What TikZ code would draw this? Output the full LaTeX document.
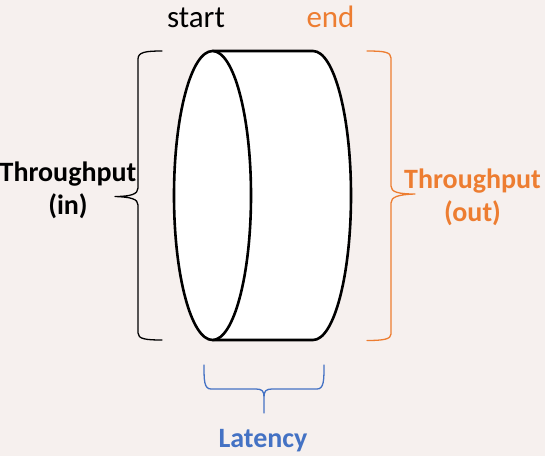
\documentclass[tikz,border=0pt]{standalone}
\usepackage{fontspec}
\setmainfont{Carlito}
\definecolor{bgtint}{RGB}{246,240,238}
\definecolor{outorange}{RGB}{237,125,49}
\definecolor{latblue}{RGB}{68,114,196}
\tikzset{
  lbl/.style={inner sep=0pt, font=\fontsize{31}{33}\selectfont, align=center},
  blbl/.style={inner sep=0pt, font=\fontsize{28}{33}\selectfont\bfseries, align=center},
  cyl/.style={draw=black, line width=2.6pt, fill=white, line join=round},
  bracepath/.style={line width=1.3pt, line cap=round, line join=round}
}
\begin{document}
\begin{tikzpicture}[x=1pt, y=-1pt]
  % canvas
  \fill[bgtint] (0,0) rectangle (545,456);
  \useasboundingbox (0,0) rectangle (545,456);

  % cylinder seen from the side: body first, then the front face
  \path[cyl] (213,51) -- (313,51)
    arc[start angle=90, end angle=-90, x radius=38pt, y radius=144.5pt]
    -- (213,340) -- cycle;
  \path[cyl] (212.5,195.5) ellipse [x radius=38.5pt, y radius=144.5pt];

  % end labels
  \node[lbl, anchor=base] (start) at (196,27) {start};
  \node[lbl, anchor=base, text=outorange] (end) at (330.5,27) {end};

  % input brace (label anchored at the baseline of its last line)
  \draw[bracepath, black] (162,51) .. controls (146,51) and (138,52) .. (138,59)
    -- (138,188) .. controls (138,194) and (131,196.5) .. (115,196.5)
    .. controls (131,197) and (138,199) .. (138,205)
    -- (138,333) .. controls (138,339) and (146,340) .. (162,340);
  \node[blbl, anchor=base] (tin) at (68,214) {Throughput\\(in)};

  % output brace
  \draw[bracepath, outorange] (367,51) .. controls (384,51) and (391,52) .. (391,58)
    -- (391,186) .. controls (391,192) and (398,194) .. (415,194)
    .. controls (398,194.5) and (391,197) .. (391,203)
    -- (391,334) .. controls (391,339) and (384,340.5) .. (367,340.5);
  \node[blbl, anchor=base, text=outorange] (tout) at (472.5,221) {Throughput\\(out)};

  % latency brace
  \draw[bracepath, latblue] (204,365) .. controls (204,380) and (204,389) .. (211,389)
    -- (256,389) .. controls (262,389) and (264,391) .. (264,397)
    -- (264,413) -- (264,397)
    .. controls (264,391) and (266,389) .. (272,389)
    -- (317,389) .. controls (324,389) and (324,380) .. (324,365);
  \node[blbl, anchor=base, text=latblue] (lat) at (263,447) {Latency};
\end{tikzpicture}
\end{document}
